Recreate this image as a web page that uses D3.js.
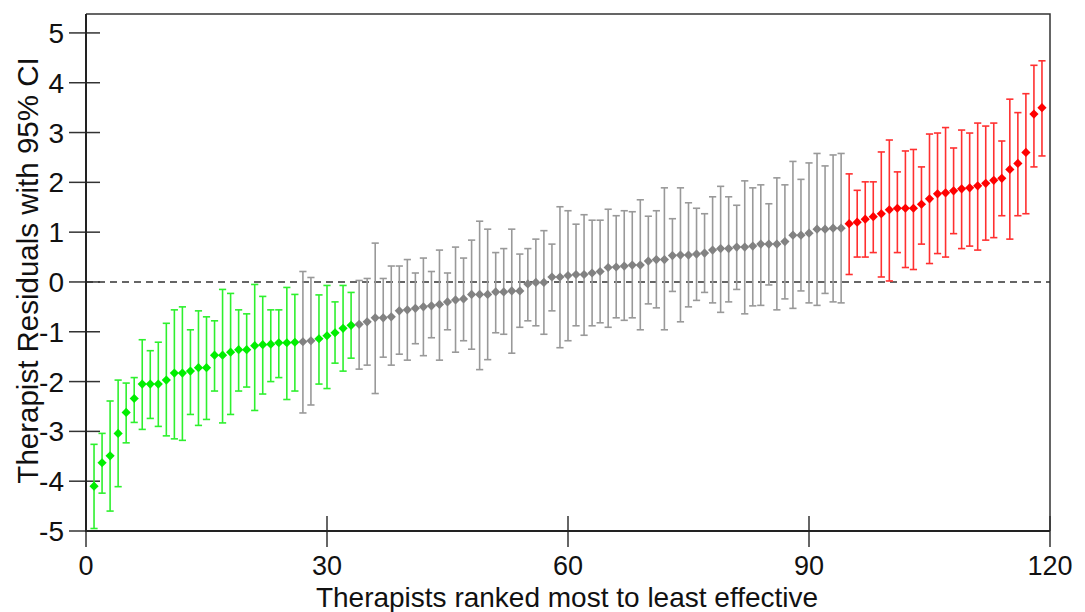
<!DOCTYPE html>
<html>
<head>
<meta charset="utf-8">
<script src="https://cdn.jsdelivr.net/npm/d3@7"></script>
<style>
  html, body { margin: 0; padding: 0; background: #fff; }
  svg { display: block; }
  text { font-family: "Liberation Sans", Arial, sans-serif; fill: #111; }
</style>
</head>
<body>
<svg id="chart" width="1085" height="612"></svg>
<script>
// Therapist residual estimates (ranked 1..119)
const estimates = [
  -4.10, -3.63, -3.49, -3.04, -2.62, -2.34, -2.05, -2.05, -2.05, -1.97,
  -1.83, -1.83, -1.79, -1.72, -1.72, -1.47, -1.47, -1.41, -1.36, -1.36,
  -1.28, -1.26, -1.25, -1.22, -1.22, -1.21, -1.20, -1.18, -1.14, -1.08,
  -1.02, -0.93, -0.87, -0.85, -0.80, -0.72, -0.72, -0.70, -0.58, -0.56,
  -0.53, -0.50, -0.48, -0.45, -0.40, -0.36, -0.34, -0.25, -0.25, -0.25,
  -0.20, -0.20, -0.18, -0.18, -0.04, -0.01, -0.01, 0.10, 0.10, 0.13,
  0.15, 0.15, 0.18, 0.21, 0.29, 0.30, 0.32, 0.34, 0.34, 0.42,
  0.45, 0.45, 0.53, 0.54, 0.54, 0.56, 0.58, 0.64, 0.67, 0.67,
  0.70, 0.70, 0.72, 0.76, 0.76, 0.76, 0.81, 0.94, 0.94, 0.98,
  1.06, 1.06, 1.08, 1.08, 1.17, 1.20, 1.26, 1.31, 1.37, 1.45,
  1.48, 1.48, 1.48, 1.56, 1.67, 1.77, 1.79, 1.83, 1.87, 1.89,
  1.93, 1.98, 2.04, 2.08, 2.26, 2.38, 2.60, 3.37, 3.50
];
// Lower 95% CI bound
const lower = [
  -4.95, -4.24, -4.60, -4.11, -3.23, -2.82, -2.96, -2.74, -2.90, -3.09,
  -3.15, -3.18, -2.66, -2.88, -2.76, -2.19, -2.83, -2.66, -2.19, -2.11,
  -2.58, -2.25, -2.00, -1.92, -2.36, -2.19, -2.63, -2.47, -2.05, -2.14,
  -1.63, -1.79, -1.53, -1.75, -1.67, -2.24, -1.51, -1.67, -1.45, -1.57,
  -1.24, -1.48, -1.12, -1.57, -0.96, -1.41, -1.18, -1.35, -1.76, -1.56,
  -1.02, -1.05, -1.43, -0.91, -0.78, -0.88, -1.05, -0.58, -1.32, -1.18,
  -0.88, -1.07, -0.88, -0.82, -0.91, -0.72, -0.77, -0.72, -0.96, -0.44,
  -0.52, -0.96, -0.19, -0.80, -0.50, -0.37, -0.21, -0.42, -0.61, -0.40,
  -0.15, -0.64, -0.48, -0.47, -0.06, -0.56, -0.34, -0.53, -0.18, -0.42,
  -0.47, -0.23, -0.40, -0.42, 0.15, 0.50, 0.50, 0.59, 0.10, 0.02,
  0.59, 0.29, 0.25, 0.76, 0.37, 0.57, 0.50, 0.97, 0.67, 0.72,
  0.64, 0.84, 0.89, 1.33, 0.86, 1.33, 1.37, 2.31, 2.53
];
// Upper 95% CI bound
const upper = [
  -3.26, -3.04, -2.39, -1.97, -2.03, -1.92, -1.16, -1.38, -1.21, -0.83,
  -0.56, -0.50, -0.96, -0.58, -0.70, -0.78, -0.15, -0.23, -0.56, -0.64,
  -0.05, -0.29, -0.56, -0.56, -0.11, -0.25, 0.21, 0.09, -0.26, -0.07,
  -0.40, -0.07, -0.21, 0.03, 0.07, 0.78, 0.07, 0.32, 0.32, 0.45,
  0.18, 0.48, 0.21, 0.64, 0.18, 0.70, 0.48, 0.84, 1.22, 1.06,
  0.59, 0.67, 1.06, 0.56, 0.67, 0.86, 1.03, 0.76, 1.51, 1.43,
  1.16, 1.35, 1.24, 1.24, 1.46, 1.33, 1.43, 1.41, 1.65, 1.32,
  1.43, 1.89, 1.27, 1.89, 1.59, 1.48, 1.37, 1.71, 1.92, 1.71,
  1.54, 2.03, 1.89, 1.95, 1.57, 2.09, 1.95, 2.42, 2.06, 2.39,
  2.58, 2.33, 2.55, 2.58, 2.17, 1.84, 2.01, 2.01, 2.61, 2.85,
  2.21, 2.63, 2.66, 2.31, 2.97, 2.99, 3.10, 2.69, 3.05, 2.99,
  3.19, 3.13, 3.19, 2.83, 3.67, 3.40, 3.78, 4.35, 4.44
];
const xTicks = [0, 30, 60, 90, 120];
const yTicks = [-5, -4, -3, -2, -1, 0, 1, 2, 3, 4, 5];
const xTitle = "Therapists ranked most to least effective";
const yTitle = "Therapist Residuals with 95% CI";

const palette = {
  better: { bar: "#2ef02e", pt: "#00ee00" },
  neutral: { bar: "#999999", pt: "#828282" },
  worse:  { bar: "#ff3030", pt: "#ff0000" }
};

(function () {
const data = estimates.map((v, i) => ({
  rank: i + 1, est: v, lo: lower[i], hi: upper[i],
  grp: upper[i] < 0 ? "better" : (lower[i] > 0 ? "worse" : "neutral")
}));

const svg = d3.select("#chart");
const pL = 86, pR = 1050, pT = 14, pB = 531;
const x = d3.scaleLinear().domain([0, 120]).range([pL, pR]);
const y = d3.scaleLinear().domain([-5, 5.38]).range([pB, pT]);

// frame (top + right)
svg.append("path")
  .attr("d", `M${pL},${pT}H${pR}V${pB}`)
  .attr("fill", "none").attr("stroke", "#333").attr("stroke-width", 1.5);

// zero reference line
svg.append("line")
  .attr("x1", x(0)).attr("x2", x(120)).attr("y1", y(0)).attr("y2", y(0))
  .attr("stroke", "#333").attr("stroke-width", 1.5).attr("stroke-dasharray", "7,5");

// y ticks (crossing the axis)
const yt = svg.append("g");
yt.selectAll("line").data(yTicks).join("line")
  .attr("x1", pL - 17).attr("x2", pL + 14)
  .attr("y1", d => y(d)).attr("y2", d => y(d))
  .attr("stroke", "#333").attr("stroke-width", 1.5);
yt.selectAll("text").data(yTicks).join("text")
  .attr("x", 64).attr("y", d => y(d)).attr("dy", "0.36em")
  .attr("text-anchor", "end").attr("font-size", 28)
  .text(d => d);

// x ticks
const xt = svg.append("g");
xt.selectAll("line").data(xTicks).join("line")
  .attr("x1", d => x(d)).attr("x2", d => x(d))
  .attr("y1", pB - 15).attr("y2", pB + 16)
  .attr("stroke", "#333").attr("stroke-width", 1.5);
xt.selectAll("text").data(xTicks).join("text")
  .attr("x", d => x(d)).attr("y", 575)
  .attr("text-anchor", "middle").attr("font-size", 27)
  .text(d => d);

// axes lines
svg.append("line").attr("x1", pL).attr("x2", pL).attr("y1", pT).attr("y2", pB + 1)
  .attr("stroke", "#222").attr("stroke-width", 2);
svg.append("line").attr("x1", pL).attr("x2", pR).attr("y1", pB).attr("y2", pB)
  .attr("stroke", "#222").attr("stroke-width", 2);

// error bars
const cap = 3.6;
const bars = svg.append("g").selectAll("g").data(data).join("g")
  .attr("stroke", d => palette[d.grp].bar).attr("stroke-width", 1.6).attr("fill", "none");
bars.append("line")
  .attr("x1", d => x(d.rank)).attr("x2", d => x(d.rank))
  .attr("y1", d => y(d.lo)).attr("y2", d => y(d.hi));
bars.append("line")
  .attr("x1", d => x(d.rank) - cap).attr("x2", d => x(d.rank) + cap)
  .attr("y1", d => y(d.lo)).attr("y2", d => y(d.lo));
bars.append("line")
  .attr("x1", d => x(d.rank) - cap).attr("x2", d => x(d.rank) + cap)
  .attr("y1", d => y(d.hi)).attr("y2", d => y(d.hi));

// diamonds
const r = 4.6;
svg.append("g").selectAll("path").data(data).join("path")
  .attr("transform", d => `translate(${x(d.rank)},${y(d.est)})`)
  .attr("d", `M0,${-r}L${r},0L0,${r}L${-r},0Z`)
  .attr("fill", d => palette[d.grp].pt);

// titles
svg.append("text")
  .attr("x", (pL + pR) / 2 - 1).attr("y", 606.5)
  .attr("text-anchor", "middle").attr("font-size", 28)
  .text(xTitle);
svg.append("text")
  .attr("transform", `translate(38,${(pT + pB) / 2 - 2}) rotate(-90)`)
  .attr("text-anchor", "middle").attr("font-size", 29.5)
  .text(yTitle);
})();
</script>
</body>
</html>
